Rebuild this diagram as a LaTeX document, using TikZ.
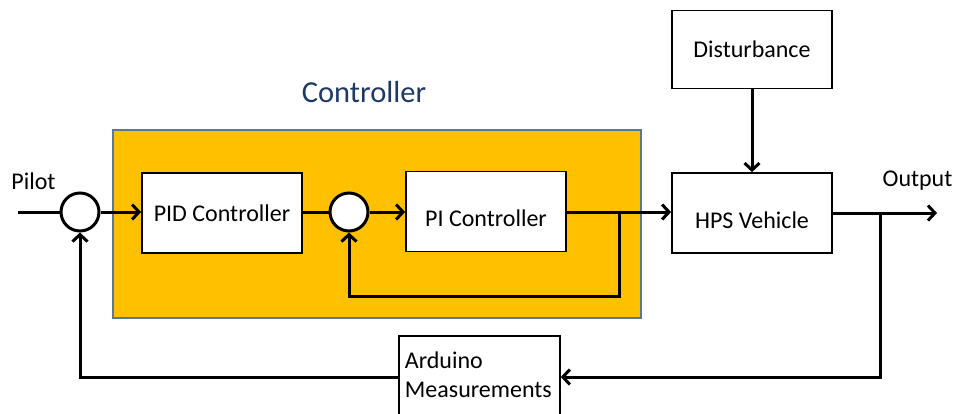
\documentclass[tikz,border=0pt]{standalone}
\usepackage{fontspec}
\setmainfont{Carlito}
\usetikzlibrary{arrows.meta}
\definecolor{ctrlfill}{HTML}{FFC000}
\definecolor{ctrlborder}{HTML}{5A7896}
\definecolor{headblue}{HTML}{1F3864}
\tikzset{
  blk/.style={draw=black, line width=1.8pt, fill=white, minimum width=160pt, minimum height=80pt, inner sep=0pt, font=\fontsize{24}{29}\selectfont},
  sumj/.style={draw=black, line width=3pt, fill=white, circle, minimum size=38pt, inner sep=0pt},
  conn/.style={line width=3pt, draw=black},
  arr/.style={conn, -{Straight Barb[length=7pt,width=15pt,line width=3pt]}},
  lbl/.style={font=\fontsize{24}{29}\selectfont, inner sep=0pt},
  lowtext/.style={text height=30pt, text depth=0pt}
}
\begin{document}
\begin{tikzpicture}[x=1pt,y=-1pt]
\useasboundingbox (0,0) rectangle (957,413);
\clip (0,0) rectangle (957,413);
% controller container
\node[draw=ctrlborder, line width=2.2pt, fill=ctrlfill, minimum width=528pt, minimum height=188pt, inner sep=0pt] (ctrl) at (377,224) {};
\node[font=\fontsize{30.5}{36}\selectfont, text=headblue, inner sep=0pt] (head) at (364,92) {Controller};
% blocks
\node[sumj] (c1) at (80,212) {};
\node[blk] (pid) at (222,213) {PID Controller};
\node[sumj] (c2) at (349,212) {};
\node[blk, lowtext] (pi) at (486,211.5) {PI Controller};
\node[blk, minimum height=78pt] (dist) at (752,49.5) {Disturbance};
\node[blk, lowtext] (hps) at (752,213) {HPS Vehicle};
\node[draw=black, line width=1.8pt, fill=white, anchor=north west, align=left,
      text width=149pt, inner xsep=6pt, inner ysep=16pt, text depth=40pt,
      font=\fontsize{24}{29}\selectfont] (ard) at (398,335) {Arduino\\Measurements};
% labels
\node[lbl] (pilot) at (33.5,181.5) {Pilot};
\node[lbl] (outl) at (917.5,180.5) {Output};
% coordinates
\coordinate (in) at (18,212);
\coordinate (b1) at (619,212);
\coordinate (b1d) at (619,296);
\coordinate (b2) at (880,213);
\coordinate (b2d) at (880,377);
\coordinate (out) at (937,213);
% connectors
\draw[conn] (in) -- (c1.west);
\draw[arr] (c1.east) -- (pid.west |- c1.east);
\draw[conn] (pid.east |- c2.west) -- (c2.west);
\draw[arr] (c2.east) -- (pi.west |- c2.east);
\draw[arr] (pi.east |- b1) -- (hps.west |- b1);
\draw[arr] (b1) -- (b1d) -| (c2.south);
\draw[arr] (dist.south) -- (hps.north);
\draw[arr] (hps.east) -- (out);
\draw[arr] (b2) -- (b2d) -- (b2d -| ard.east);
\draw[arr] (b2d -| ard.west) -| (c1.south);
\end{tikzpicture}
\end{document}
